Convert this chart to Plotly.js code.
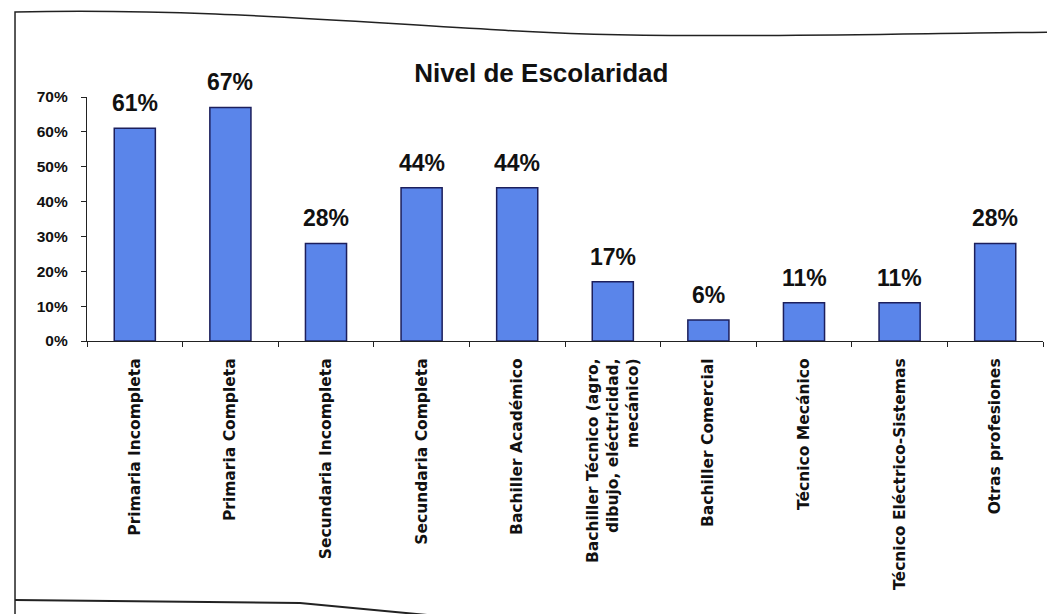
<!DOCTYPE html>
<html>
<head>
<meta charset="utf-8">
<script src="https://cdn.plot.ly/plotly-3.0.1.min.js"></script>
<style>html,body{margin:0;padding:0;background:#fff;}#chart{width:1047px;height:614px;}</style>
</head>
<body>
<div id="chart"></div>
<script>
var categories = [
  "Primaria Incompleta",
  "Primaria Completa",
  "Secundaria Incompleta",
  "Secundaria Completa",
  "Bachiller Académico",
  "Bachiller Técnico (agro,<br>dibujo, eléctricidad,<br>mecánico)",
  "Bachiller Comercial",
  "Técnico Mecánico",
  "Técnico Eléctrico-Sistemas",
  "Otras profesiones"
];
var values = [0.61, 0.67, 0.28, 0.44, 0.44, 0.17, 0.06, 0.11, 0.11, 0.28];
var yTickVals = [0, 0.1, 0.2, 0.3, 0.4, 0.5, 0.6, 0.7];
var yTickText = ["0%", "10%", "20%", "30%", "40%", "50%", "60%", "70%"];

var W = 1047, H = 614;
var mL = 87, mR = 4, mT = 97, mB = 273;
var pw = W - mL - mR, ph = H - mT - mB;
function px(x) { return (x - mL) / pw; }
function py(y) { return (H - mB - y) / ph; }
function pt(x, y) { return px(x).toFixed(4) + "," + py(y).toFixed(4); }

var framePath = "M " + pt(15, 640) + " L " + pt(15, 12) +
  " C " + pt(200, 8) + " " + pt(350, 22) + " " + pt(500, 30) +
  " C " + pt(650, 40) + " " + pt(850, 34) + " " + pt(1060, 32);
var bottomPath = "M " + pt(15, 600) + " L " + pt(300, 603) + " L " + pt(480, 620);

var font = "Arial, 'Liberation Sans', sans-serif";
var wideFont = "'DejaVu Sans', Verdana, sans-serif";

var trace = {
  type: "bar",
  x: categories,
  y: values,
  marker: { color: "#5a85ea", line: { color: "#1c1f5c", width: 1.5 } },
  hoverinfo: "none"
};

var annotations = categories.map(function (c, i) {
  return {
    x: c, y: values[i], xref: "x", yref: "y",
    text: Math.round(values[i] * 100) + "%",
    showarrow: false, yanchor: "bottom", yshift: 10,
    font: { family: font, size: 23, color: "#111", weight: "bold" }
  };
});

var layout = {
  width: W, height: H,
  margin: { l: mL, r: mR, t: mT, b: mB },
  paper_bgcolor: "#fff",
  plot_bgcolor: "#fff",
  showlegend: false,
  bargap: 0.57,
  title: {
    text: "Nivel de Escolaridad",
    font: { family: font, size: 26, color: "#111", weight: "bold" },
    x: 0.517, xanchor: "center",
    y: 0.882, yanchor: "middle"
  },
  annotations: annotations,
  xaxis: {
    type: "category",
    showgrid: false,
    showline: true, linecolor: "#222", linewidth: 1.2,
    ticks: "outside", tickson: "boundaries", ticklen: 5, tickcolor: "#222",
    tickangle: -90,
    ticklabelstandoff: 10,
    tickfont: { family: wideFont, size: 15.5, color: "#111", weight: "bold" },
    fixedrange: true
  },
  yaxis: {
    range: [0, 0.7],
    tickvals: yTickVals,
    ticktext: yTickText,
    showgrid: false, zeroline: false,
    showline: true, linecolor: "#222", linewidth: 1.2,
    ticks: "outside", ticklen: 5, tickcolor: "#222",
    ticklabelstandoff: 10,
    tickfont: { family: font, size: 15.5, color: "#111", weight: "bold" },
    fixedrange: true
  },
  shapes: [
    { type: "path", xref: "paper", yref: "paper", path: framePath, line: { color: "#222", width: 1.5 } },
    { type: "path", xref: "paper", yref: "paper", path: bottomPath, line: { color: "#222", width: 2 } }
  ]
};

Plotly.newPlot("chart", [trace], layout, { staticPlot: true, displayModeBar: false });
</script>
</body>
</html>
